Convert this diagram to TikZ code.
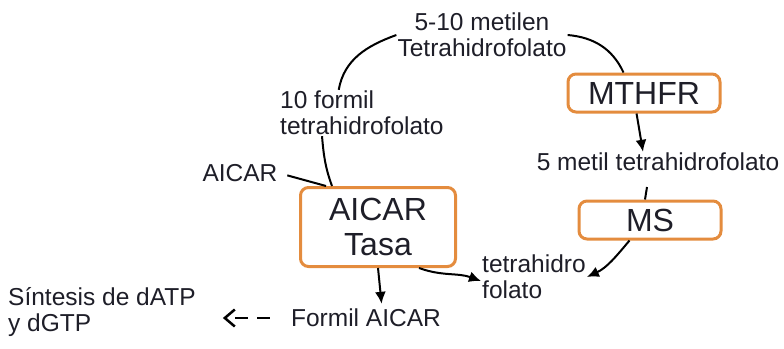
\documentclass[tikz,border=0pt]{standalone}
\usepackage{fontspec}
\setmainfont{Liberation Sans}
\usepackage{xcolor}
\usetikzlibrary{arrows.meta}

\definecolor{boxorange}{RGB}{228,140,62}
\definecolor{textgray}{RGB}{30,30,40}

\begin{document}
\begin{tikzpicture}[x=1pt, y=1pt,
    chem/.style={inner sep=1pt, text=textgray, font=\fontsize{24.5}{26}\selectfont},
    enzyme/.style={draw=boxorange, line width=3pt, rounded corners=8pt, rectangle, text=textgray, inner sep=1pt, font=\fontsize{32}{35}\selectfont},
    link/.style={line width=2pt},
    reaction/.style={line width=2pt, -{Latex[length=12pt, width=11pt]}},
    dasharrow/.style={line width=2.5pt, dash pattern=on 13pt off 9pt, -{Straight Barb[length=10pt, width=17pt]}}]
    \useasboundingbox (0, 0) rectangle (784, -348);

    \node[chem, align=center] at (482, -35) (metilen) {5-10 metilen\\Tetrahidrofolato};
    \node[enzyme, minimum width=152pt, minimum height=38pt] at (644, -93) (mthfr) {MTHFR};
    \node[chem, anchor=west, align=left] at (279, -113) (formil) {10 formil\\tetrahidrofolato};
    \node[chem] at (658, -162) (metil) {5 metil tetrahidrofolato};
    \node[enzyme, minimum width=142pt, minimum height=38pt] at (650, -220) (ms) {MS};
    \node[chem] at (240, -173) (aicar) {AICAR};
    \node[enzyme, minimum width=155pt, minimum height=79pt, align=center] at (378, -227) (tasa) {AICAR\\Tasa};
    \node[chem, anchor=west, align=left] at (481, -277) (folato) {tetrahidro\\folato};
    \node[chem] at (366, -318) (formilaicar) {Formil AICAR};
    \node[chem, anchor=west, align=left] at (7, -312) (sintesis) {Síntesis de dATP\\y dGTP};
    \coordinate (stub) at (647, -187);

    \draw (formil.135) edge[link, out=80, in=200] (metilen.west);
    \draw (metilen.east) edge[link, out=-5, in=115] (mthfr.135);
    \draw (mthfr.250) edge[reaction] ([xshift=-15pt]metil.north);
    \draw ([xshift=-5pt]ms.north) edge[link] (stub);
    \draw (ms.225) edge[reaction, out=230, in=25] (folato.east);
    \draw (aicar.east) edge[link, shorten <=9pt] ([xshift=27pt]tasa.north west);
    \draw ([xshift=43pt]formil.south west) edge[link, out=-85, in=110] ([xshift=33pt]tasa.north west);
    \draw (tasa.south) edge[reaction, shorten >=4pt] ([xshift=16pt]formilaicar.north);
    \draw (tasa.-45) edge[reaction, out=-20, in=160] ([yshift=-4pt]folato.west);
    \draw (formilaicar.west) edge[dasharrow, shorten <=20pt, shorten >=26pt] (formilaicar.west -| sintesis.east);
\end{tikzpicture}
\end{document}
